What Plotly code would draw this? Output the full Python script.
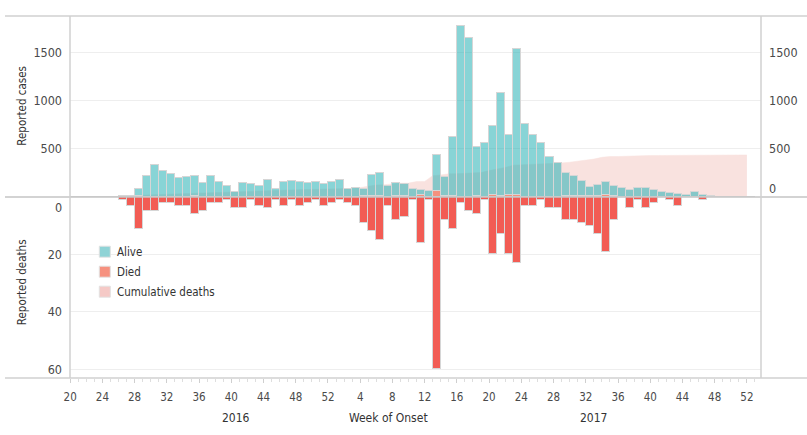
import numpy as np
import plotly.graph_objects as go

# ---------------- data ----------------
years = [2016] * 33 + [2017] * 52
weeks = list(range(20, 53)) + list(range(1, 53))

alive = [2, 1, 2, 2, 3, 4, 7, 12, 67, 210,
         327, 266, 233, 192, 201, 208, 143, 214, 155, 111,
         48, 146, 139, 109, 168, 77, 149, 163, 150, 146,
         156, 137, 153, 171, 84, 90, 77, 212, 230, 107,
         137, 131, 78, 56, 65, 375, 196, 607, 1775, 1648,
         508, 558, 715, 1067, 618, 1509, 759, 640, 554, 410,
         351, 237, 209, 153, 90, 115, 133, 102, 90, 68,
         89, 86, 74, 55, 37, 25, 16, 48, 16, 14,
         5, 3, 3, 2, 2]
died = [0, 0, 0, 0, 0, 0, 1, 3, 11, 5,
        5, 2, 2, 3, 3, 6, 5, 2, 2, 1,
        4, 4, 1, 3, 4, 1, 3, 1, 3, 2,
        1, 3, 2, 1, 2, 3, 9, 12, 15, 3,
        8, 7, 1, 16, 1, 60, 8, 11, 2, 5,
        6, 1, 20, 13, 20, 23, 3, 3, 1, 4,
        4, 8, 8, 9, 10, 13, 19, 8, 0, 4,
        1, 4, 2, 0, 1, 3, 0, 0, 1, 0,
        0, 0, 0, 0, 0]

case_ticks = [500, 1000, 1500]
death_ticks = [20, 40, 60]
tick_weeks = [20, 24, 28, 32, 36, 40, 44, 48, 52, 4, 8, 12, 16, 20, 24, 28, 32, 36, 40, 44, 48, 52]
tick_years = [2016] * 9 + [2017] * 13
year_labels = ["2016", "2017"]
legend_names = ["Alive", "Died", "Cumulative deaths"]

# ---------------- derived ----------------
FONT = "DejaVu Sans Condensed, DejaVu Sans, sans-serif"
n = len(weeks)
idx = list(range(n))
xc = [i + 0.5 for i in idx]
cum = np.cumsum(died)


def pos(y, w):
    for i in idx:
        if years[i] == y and weeks[i] == w:
            return i
    return None


tickvals = [pos(y, w) for y, w in zip(tick_years, tick_weeks)]
ticktext = [str(w) for w in tick_weeks]

TEAL = "rgba(38,176,181,0.55)"
SALMON = "#f4917e"
RED = "#f25c54"
PINK = "#f9e2df"
OUTLINE = "#d6d6d6"

fig = go.Figure()
fig.add_trace(go.Scatter(x=idx, y=cum, mode="lines", fill="tozeroy", fillcolor=PINK,
                         line=dict(color=PINK, width=0.5), xaxis="x", yaxis="y",
                         showlegend=False, hoverinfo="skip"))
fig.add_trace(go.Bar(x=xc, y=died, width=1, xaxis="x", yaxis="y3",
                     marker=dict(color=SALMON, line=dict(color=OUTLINE, width=1)),
                     showlegend=False, name="Died"))
fig.add_trace(go.Bar(x=xc, y=alive, width=1, xaxis="x", yaxis="y3",
                     marker=dict(color=TEAL, line=dict(color=OUTLINE, width=1)),
                     showlegend=False, name="Alive"))
fig.add_trace(go.Bar(x=xc, y=died, width=1, xaxis="x", yaxis="y2",
                     marker=dict(color=RED, line=dict(color=OUTLINE, width=1)),
                     showlegend=False, name="Died"))

tickfont = dict(family=FONT, size=12.5, color="#4a4a4a")
textfont = dict(family=FONT, size=11.5, color="#333333")
CASE_MAX = 1877
DEATH_MAX = 63

fig.update_layout(
    width=807, height=435,
    margin=dict(l=70, r=46, t=16, b=57),
    paper_bgcolor="white", plot_bgcolor="white",
    barmode="stack", bargap=0,
    showlegend=False,
    font=dict(family=FONT, color="#333333"),
    xaxis=dict(domain=[0, 1], range=[-0.02, 85.75], anchor="y2", automargin=False,
               tickvals=tickvals, ticktext=ticktext, ticks="outside", ticklen=4,
               tickcolor="#cfcfcf", showgrid=False, zeroline=False, showline=False,
               ticklabelstandoff=4,
               tickfont=dict(family=FONT, size=11.5, color="#4a4a4a"),
               minor=dict(tickvals=idx + [n], ticks="outside", ticklen=3, tickcolor="#dedede")),
    yaxis=dict(domain=[0.5, 1], range=[0, CASE_MAX], anchor="x", side="right", automargin=False,
               tickvals=case_ticks, showgrid=True, gridcolor="#eeeeee", zeroline=False,
               showline=False, tickfont=tickfont, ticklabelstandoff=7),
    yaxis3=dict(overlaying="y", range=[0, CASE_MAX], anchor="x", side="left", automargin=False,
                tickvals=case_ticks, showgrid=False, zeroline=False, showline=False,
                tickfont=tickfont, ticklabelstandoff=7),
    yaxis2=dict(domain=[0, 0.5], range=[DEATH_MAX, 0], anchor="x", side="left", automargin=False,
                tickvals=death_ticks, showgrid=True, gridcolor="#eeeeee", zeroline=False,
                showline=False, tickfont=tickfont, ticklabelstandoff=7),
)

# frame lines (Tableau-like pane borders)
LINE = "#d0d0d0"
x_left_full = (5 - 70) / 691
x_right_full = (807 - 70) / 691
shapes = []
for yy in [1, 0]:
    shapes.append(dict(type="line", xref="paper", yref="paper", x0=x_left_full, x1=x_right_full,
                       y0=yy, y1=yy, line=dict(color=LINE, width=1.5), layer="above"))
shapes.append(dict(type="line", xref="paper", yref="paper", x0=x_left_full, x1=x_right_full,
                   y0=0.5, y1=0.5, line=dict(color="#c4c4c4", width=1.5), layer="above"))
for xx in [0, 1]:
    shapes.append(dict(type="line", xref="paper", yref="paper", x0=xx, x1=xx,
                       y0=0, y1=1, line=dict(color=LINE, width=1.5), layer="above"))

# manual legend
legend_colors = ["#8fd3d6", "#f6917f", "#f5c9c6"]
annotations = []
for k, (name, col) in enumerate(zip(legend_names, legend_colors)):
    cy = 251.7 + 20 * k
    shapes.append(dict(type="rect", xref="paper", yref="paper",
                       x0=(99.3 - 70) / 691, x1=(110.3 - 70) / 691,
                       y0=(378 - (cy + 5.5)) / 362, y1=(378 - (cy - 5.5)) / 362,
                       fillcolor=col, line=dict(color="#e2e2e2", width=1), layer="above"))
    annotations.append(dict(text=name, xref="paper", yref="paper", x=(115 - 70) / 691,
                            y=(378 - cy) / 362, xanchor="left", yanchor="middle", showarrow=False,
                            font=textfont))

# edge "0" labels
annotations.append(dict(text="0", xref="paper", yref="y2", x=0, y=0, xanchor="right",
                        yanchor="middle", xshift=-6, yshift=-10, showarrow=False, font=tickfont))
annotations.append(dict(text="0", xref="paper", yref="y", x=1, y=0, xanchor="left",
                        yanchor="middle", xshift=6, yshift=9, showarrow=False, font=tickfont))

# axis titles
annotations.append(dict(text="Reported cases", xref="paper", yref="paper", x=(21.7 - 70) / 691,
                        y=(378 - 106) / 362, textangle=-90, xanchor="center", yanchor="middle",
                        showarrow=False, font=textfont))
annotations.append(dict(text="Reported deaths", xref="paper", yref="paper", x=(21.7 - 70) / 691,
                        y=(378 - 282.5) / 362, textangle=-90, xanchor="center", yanchor="middle",
                        showarrow=False, font=textfont))

# year labels and axis title on the x axis
yearfont = dict(family=FONT, size=12, color="#333333")
year_pos = [pos(2016, 40) + 0.6, pos(2017, 32) + 1.0]
for txt, xp in zip(year_labels, year_pos):
    annotations.append(dict(text=txt, xref="x", yref="paper", x=xp, y=(378 - 417.5) / 362,
                            xanchor="center", yanchor="middle", showarrow=False, font=yearfont))
annotations.append(dict(text="Week of Onset", xref="x", yref="paper", x=pos(2017, 8) - 0.5,
                        y=(378 - 417.5) / 362, xanchor="center", yanchor="middle", showarrow=False,
                        font=yearfont))

fig.update_layout(shapes=shapes, annotations=annotations)
fig.write_html("out.html", config={"displayModeBar": False},
               post_script="document.body.style.margin='0px';document.body.style.overflow='hidden';")
